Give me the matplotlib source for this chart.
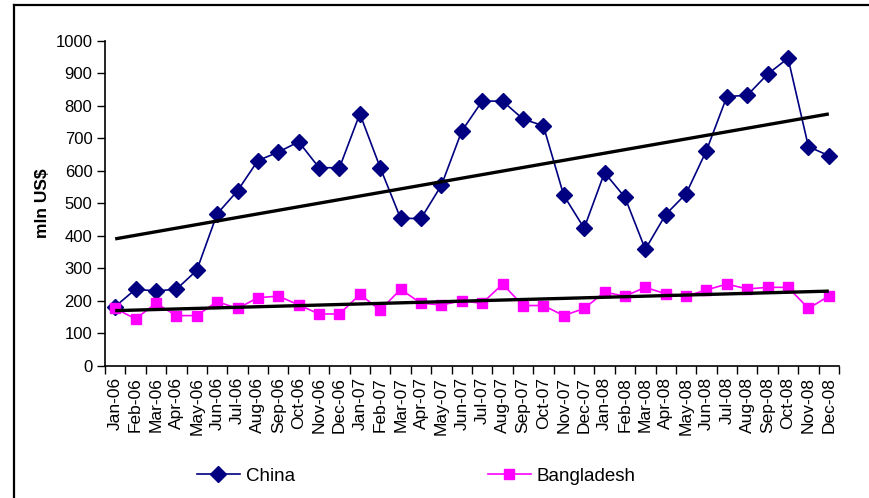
import numpy as np
import matplotlib
matplotlib.use("Agg")
import matplotlib.pyplot as plt
from matplotlib.lines import Line2D

plt.rcParams['font.family'] = ['Liberation Sans', 'DejaVu Sans']

months = ["Jan", "Feb", "Mar", "Apr", "May", "Jun",
          "Jul", "Aug", "Sep", "Oct", "Nov", "Dec"]
years = ["06", "07", "08"]
periods = [f"{m}-{y}" for y in years for m in months]

china = [183, 236, 231, 236, 294, 468, 539, 632, 658, 690, 610, 610,
         776, 610, 454, 454, 556, 723, 815, 815, 760, 739, 525, 424,
         595, 519, 359, 466, 530, 663, 829, 833, 898, 947, 675, 647]
bangladesh = [177, 145, 193, 155, 155, 198, 177, 210, 215, 188, 160, 160,
              220, 172, 236, 193, 188, 200, 193, 252, 186, 186, 155, 177,
              227, 215, 242, 222, 215, 234, 252, 237, 242, 242, 177, 215]

x = np.arange(len(periods))

fig = plt.figure(figsize=(8.69, 4.98), dpi=100)
ax = fig.add_axes([0.1208, 0.2651, 0.8447, 0.6526])

navy = "#000080"
magenta = "#FF00FF"

ax.plot(x, china, color=navy, lw=1.2, marker="D", ms=8,
        markerfacecolor=navy, markeredgecolor=navy, zorder=3)
ax.plot(x, bangladesh, color=magenta, lw=1.2, marker="s", ms=7.5,
        markerfacecolor=magenta, markeredgecolor=magenta, zorder=3)

# linear trend lines
for series in (china, bangladesh):
    k, b = np.polyfit(x, series, 1)
    ax.plot([x[0], x[-1]], [k * x[0] + b, k * x[-1] + b],
            color="black", lw=2.4, zorder=4, solid_capstyle="butt")

ax.set_xlim(-0.5, len(periods) - 0.5)
ax.set_ylim(0, 1000)
ax.set_yticks(np.arange(0, 1001, 100))
ax.tick_params(axis="y", labelsize=12, length=6, width=1, direction="out", pad=3)

ax.set_xticks(x)
ax.set_xticklabels(periods, rotation=90, fontsize=12.5)
ax.tick_params(axis="x", which="major", length=0, pad=8)
ax.set_xticks(np.arange(-0.5, len(periods)), minor=True)
ax.tick_params(axis="x", which="minor", length=6, width=1, direction="out")

for side in ("top", "right"):
    ax.spines[side].set_visible(False)
for side in ("left", "bottom"):
    ax.spines[side].set_linewidth(1.2)

ax.set_ylabel("mln US$", fontsize=12.5, fontweight="bold", labelpad=4)

handles = [
    Line2D([], [], color=navy, lw=1.2, marker="D", ms=8, label="China"),
    Line2D([], [], color=magenta, lw=1.2, marker="s", ms=7.5, label="Bangladesh"),
]
fig.legend(handles=handles, loc="center", bbox_to_anchor=(0.479, 0.044),
           ncol=2, frameon=False, fontsize=13.5, columnspacing=10.3,
           handlelength=2.3, handletextpad=0.3)

# outer chart border
fig.add_artist(Line2D([0.0165, 0.0165], [0.0, 0.990], color="black", lw=1.6,
                      transform=fig.transFigure))
fig.add_artist(Line2D([0.0165, 1.0], [0.990, 0.990], color="black", lw=1.6,
                      transform=fig.transFigure))

fig.savefig("out.png", dpi=100)
